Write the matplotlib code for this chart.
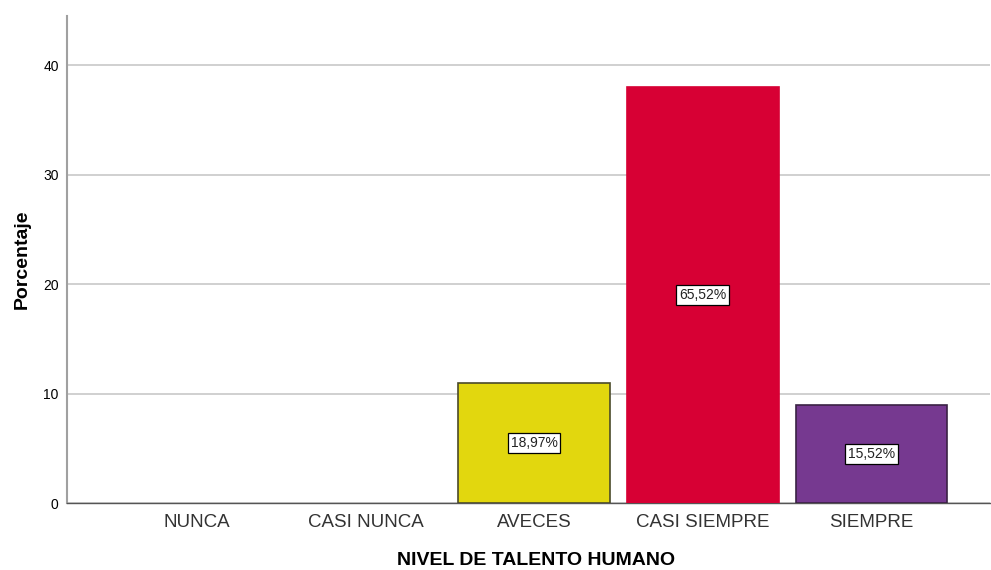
import matplotlib.pyplot as plt
import numpy as np

# frecuencias por nivel
categorias = ['NUNCA', 'CASI NUNCA', 'AVECES', 'CASI SIEMPRE', 'SIEMPRE']
frecuencias = [0, 0, 11, 38, 9]
colores = ['#FFFFFF', '#FFFFFF', '#E2D70E', '#D70034', '#763990']
bordes = ['none', 'none', '#4A4A2A', '#D70034', '#3A2244']

plt.rcParams['font.family'] = ['Liberation Sans', 'DejaVu Sans']

total = sum(frecuencias)
x = np.arange(len(categorias))

fig = plt.figure(figsize=(9.91, 5.7), dpi=100)
ax = fig.add_axes([0.0676, 0.1175, 0.931, 0.8545])

for i, v in enumerate(frecuencias):
    if v == 0:
        continue
    ax.bar(x[i], v, width=0.9, color=colores[i], edgecolor=bordes[i], linewidth=1.2, zorder=3)
    pct = v / total * 100
    ax.text(x[i], v / 2, f'{pct:.2f}%'.replace('.', ','), ha='center', va='center',
            fontsize=10, zorder=4, color='#222222',
            bbox=dict(boxstyle='square,pad=0.2', facecolor='white', edgecolor='black', linewidth=0.9))

ax.set_xlim(-0.77, 4.70)
ax.set_ylim(0, 44.5)
ax.set_yticks([0, 10, 20, 30, 40])
ax.set_xticks(x)
ax.set_xticklabels(categorias, fontsize=13.5, color='#333333')
ax.tick_params(axis='y', labelsize=10, length=0, pad=6)
ax.tick_params(axis='x', length=0, pad=8)
ax.yaxis.grid(True, color='#C8C8C8', linewidth=1.2, zorder=0)

for s in ['top', 'right']:
    ax.spines[s].set_visible(False)
ax.spines['left'].set_color('#A0A0A0')
ax.spines['left'].set_linewidth(1.5)
ax.spines['bottom'].set_color('#555555')
ax.spines['bottom'].set_linewidth(1.0)

ax.set_xlabel('NIVEL DE TALENTO HUMANO', fontsize=14, fontweight='bold')
ax.xaxis.set_label_coords(0.508, -0.101)
ax.set_ylabel('Porcentaje', fontsize=14, fontweight='bold', labelpad=9)

fig.savefig('out.png', dpi=100)
